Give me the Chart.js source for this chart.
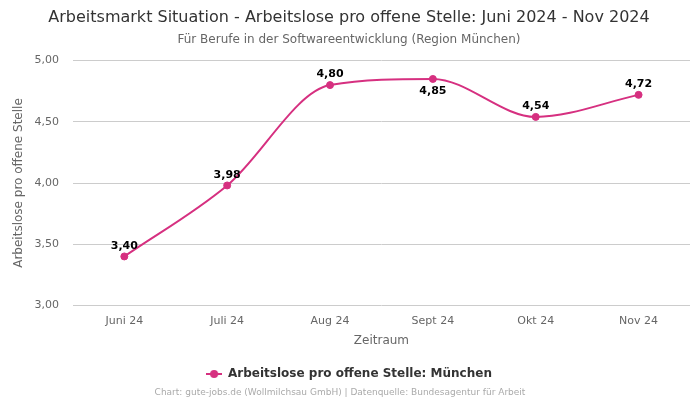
<!DOCTYPE html>
<html><head><meta charset="utf-8">
<script src="https://cdn.jsdelivr.net/npm/chart.js@4.4.1/dist/chart.umd.min.js"></script>
<style>html,body{margin:0;padding:0;background:#fff}#wrap{width:700px;height:400px}</style>
</head><body><div id="wrap"><canvas id="c" width="700" height="400"></canvas></div>
<script>
const categories = ["Juni 24","Juli 24","Aug 24","Sept 24","Okt 24","Nov 24"];
const values = [3.40, 3.98, 4.80, 4.85, 4.54, 4.72];
const labelBelow = [false, false, false, true, false, false];
const seriesName = "Arbeitslose pro offene Stelle: München";
const titleText = "Arbeitsmarkt Situation - Arbeitslose pro offene Stelle: Juni 2024 - Nov 2024";
const subtitleText = "Für Berufe in der Softwareentwicklung (Region München)";
const creditText = "Chart: gute-jobs.de (Wollmilchsau GmbH) | Datenquelle: Bundesagentur für Arbeit";
const FONT = "'DejaVu Sans', sans-serif";
const fmt = v => v.toFixed(2).replace('.', ',');
const color = 'rgb(214,48,128)';

const marker = document.createElement('canvas');
marker.width = 16; marker.height = 10;
(() => {
  const m = marker.getContext('2d');
  m.strokeStyle = color; m.lineWidth = 2;
  m.beginPath(); m.moveTo(0, 5); m.lineTo(16, 5); m.stroke();
  m.fillStyle = color; m.beginPath(); m.arc(8, 5, 4, 0, Math.PI * 2); m.fill();
})();

const labelPlugin = {
  id: 'valueLabels',
  afterDatasetsDraw(chart) {
    const ctx = chart.ctx;
    const meta = chart.getDatasetMeta(0);
    ctx.save();
    ctx.font = "bold 11px " + FONT;
    ctx.fillStyle = '#000';
    ctx.textAlign = 'center';
    meta.data.forEach((pt, i) => {
      if (labelBelow[i]) { ctx.textBaseline = 'top'; ctx.fillText(fmt(values[i]), pt.x, pt.y + 7); }
      else { ctx.textBaseline = 'bottom'; ctx.fillText(fmt(values[i]), pt.x, pt.y - 5); }
    });
    ctx.restore();
  },
  afterDraw(chart) {
    const ctx = chart.ctx;
    ctx.save();
    ctx.font = "9px " + FONT;
    ctx.fillStyle = '#aaa';
    ctx.textAlign = 'center';
    ctx.textBaseline = 'middle';
    ctx.fillText(creditText, 340, 392.5);
    ctx.restore();
  }
};

new Chart(document.getElementById('c'), {
  type: 'line',
  data: {
    labels: categories,
    datasets: [{
      label: seriesName,
      data: values,
      borderColor: color,
      backgroundColor: color,
      borderWidth: 2,
      pointRadius: 3.5,
      pointBorderWidth: 1,
      pointHoverRadius: 3.5,
      cubicInterpolationMode: 'monotone',
      fill: false
    }]
  },
  options: {
    responsive: false,
    animation: false,
    layout: { padding: { left: 8, right: 10, top: 0, bottom: 10 } },
    plugins: {
      title: { display: true, text: titleText, color: '#333', font: { family: FONT, size: 16, weight: 'normal' }, padding: { top: 8, bottom: 5 } },
      subtitle: { display: true, text: subtitleText, color: '#666', font: { family: FONT, size: 12 }, padding: { bottom: 14 } },
      legend: { position: 'bottom', labels: { usePointStyle: true, pointStyle: marker, pointStyleWidth: 16, boxHeight: 10, color: '#333', font: { family: FONT, size: 12, weight: 'bold' } } },
      tooltip: { enabled: false }
    },
    scales: {
      x: {
        offset: true,
        grid: { display: false, drawTicks: false },
        border: { display: false },
        ticks: { color: '#666', font: { family: FONT, size: 11 }, padding: 9 },
        title: { display: true, text: 'Zeitraum', color: '#666', font: { family: FONT, size: 12 }, padding: { top: -3, bottom: 10 } }
      },
      y: {
        min: 3, max: 5,
        grid: { color: '#ccc', drawTicks: true, tickLength: 10, tickColor: 'rgba(0,0,0,0)' },
        border: { display: false },
        ticks: { stepSize: 0.5, color: '#666', font: { family: FONT, size: 11 }, callback: v => fmt(v), padding: 4 },
        title: { display: true, text: 'Arbeitslose pro offene Stelle', color: '#666', font: { family: FONT, size: 12 } }
      }
    }
  },
  plugins: [labelPlugin]
});
</script></body></html>
